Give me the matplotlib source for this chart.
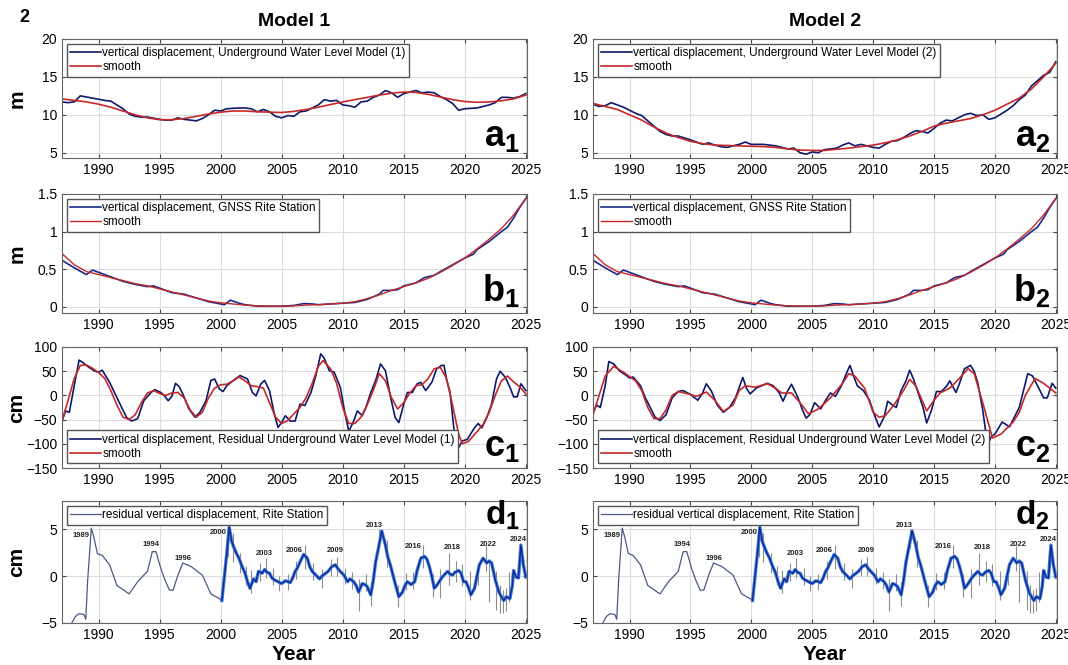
import numpy as np
import matplotlib
matplotlib.use('Agg')
import matplotlib.pyplot as plt

plt.rcParams['font.family'] = ['Liberation Sans', 'DejaVu Sans']
plt.rcParams['mathtext.fontset'] = 'custom'
plt.rcParams['mathtext.bf'] = 'Liberation Sans:bold'
plt.rcParams['mathtext.rm'] = 'Liberation Sans'

# ---- row a: underground water level models (m)
a1_x = [1987, 1987.5, 1988, 1988.5, 1989.5, 1990.5, 1991, 1992, 1992.5, 1993, 1993.5, 1994, 1995, 1995.5,
        1996, 1996.5, 1997, 1997.5, 1998, 1998.5, 1999, 1999.5, 2000, 2000.5, 2001.5, 2002, 2002.5, 2003,
        2003.5, 2004, 2004.5, 2005, 2005.5, 2006, 2006.5, 2007, 2008, 2008.5, 2009, 2009.5, 2010, 2010.5,
        2011, 2011.5, 2012, 2012.5, 2013, 2013.5, 2014, 2014.5, 2015, 2015.5, 2016, 2016.5, 2017, 2017.5,
        2018, 2018.5, 2019, 2019.5, 2020, 2021, 2021.5, 2022, 2022.5, 2023, 2023.5, 2024, 2024.5, 2025]
a1_y = [11.7, 11.6, 11.7, 12.5, 12.2, 11.9, 11.8, 10.8, 10.1, 9.8, 9.7, 9.7, 9.4, 9.3,
        9.3, 9.6, 9.4, 9.3, 9.2, 9.5, 10.0, 10.6, 10.5, 10.8, 10.9, 10.9, 10.8, 10.4,
        10.7, 10.4, 9.8, 9.6, 9.9, 9.8, 10.4, 10.5, 11.3, 12.0, 11.8, 11.9, 11.3, 11.2,
        11.0, 11.7, 11.8, 12.3, 12.6, 13.2, 12.9, 12.3, 12.8, 13.0, 13.2, 12.9, 13.0, 12.9,
        12.4, 12.0, 11.5, 10.6, 10.8, 10.9, 11.1, 11.3, 11.6, 12.3, 12.3, 12.2, 12.4, 12.8]
a1s_x = [1987, 1988, 1989, 1990, 1991, 1992, 1993, 1994, 1995, 1996, 1997, 1998, 1999, 2000, 2001, 2002,
         2003, 2004, 2005, 2006, 2007, 2008, 2009, 2010, 2011, 2012, 2013, 2014, 2015, 2016, 2017, 2018,
         2019, 2020, 2021, 2022, 2023, 2024, 2025]
a1s_y = [12.1, 11.9, 11.7, 11.4, 11.0, 10.5, 10.0, 9.6, 9.35, 9.35, 9.5, 9.8, 10.1, 10.35, 10.5, 10.5,
         10.4, 10.35, 10.3, 10.45, 10.7, 11.0, 11.35, 11.7, 12.0, 12.3, 12.6, 12.85, 13.0, 12.95, 12.7, 12.35,
         12.0, 11.75, 11.65, 11.7, 11.85, 12.1, 12.6]

a2_x = [1987, 1987.5, 1988, 1988.5, 1989.5, 1990.5, 1991, 1991.5, 1992, 1992.5, 1993, 1993.5, 1994, 1995,
        1995.5, 1996, 1996.5, 1997, 1997.5, 1998, 1998.5, 1999, 1999.5, 2000, 2001, 2002, 2002.5, 2003,
        2003.5, 2004, 2004.5, 2005, 2005.5, 2006, 2007, 2007.5, 2008, 2008.5, 2009, 2009.5, 2010, 2010.5,
        2011, 2011.5, 2012, 2012.5, 2013, 2013.5, 2014, 2014.5, 2015, 2015.5, 2016, 2016.5, 2017, 2017.5,
        2018, 2018.5, 2019, 2019.5, 2020, 2020.5, 2021, 2021.5, 2022, 2022.5, 2023, 2023.5, 2024, 2024.5, 2025]
a2_y = [11.4, 11.1, 11.2, 11.6, 11.0, 10.2, 9.9, 9.2, 8.5, 7.8, 7.4, 7.2, 7.2, 6.7,
        6.4, 6.1, 6.3, 6.0, 5.8, 5.7, 5.9, 6.1, 6.4, 6.1, 6.1, 5.9, 5.7, 5.5,
        5.6, 5.0, 4.8, 5.1, 5.0, 5.4, 5.6, 6.0, 6.3, 5.9, 6.1, 5.9, 5.7, 5.6,
        6.1, 6.5, 6.6, 7.0, 7.5, 7.9, 7.8, 7.6, 8.2, 8.9, 9.3, 9.2, 9.6, 10.0,
        10.2, 9.9, 10.0, 9.4, 9.6, 10.1, 10.6, 11.2, 12.0, 12.6, 13.8, 14.5, 15.2, 15.6, 17.0]
a2s_x = [1987, 1988, 1989, 1990, 1991, 1992, 1993, 1994, 1995, 1996, 1997, 1998, 1999, 2000, 2001, 2002,
         2003, 2004, 2005, 2006, 2007, 2008, 2009, 2010, 2011, 2012, 2013, 2014, 2015, 2016, 2017, 2018,
         2019, 2020, 2021, 2022, 2023, 2024, 2025]
a2s_y = [11.5, 11.1, 10.7, 10.0, 9.3, 8.4, 7.6, 7.0, 6.5, 6.2, 6.0, 5.95, 5.9, 5.85, 5.8, 5.7,
         5.5, 5.35, 5.3, 5.3, 5.45, 5.6, 5.8, 6.0, 6.3, 6.7, 7.2, 7.8, 8.5, 8.9, 9.2, 9.5,
         10.0, 10.6, 11.4, 12.2, 13.4, 15.0, 16.8]

# ---- row b: GNSS Rite station (m)
b_x = [1987, 1988, 1989, 1989.5, 1990, 1991, 1992, 1993, 1994, 1994.5, 1995, 1996, 1997, 1998, 1999, 2000,
       2000.3, 2000.8, 2001.5, 2002, 2003, 2004, 2005, 2006, 2006.8, 2007.5, 2008, 2009, 2010, 2011, 2012,
       2013, 2013.3, 2014, 2014.5, 2015, 2016, 2016.7, 2017.5, 2018, 2019, 2020, 2020.7, 2021, 2022, 2023,
       2023.5, 2024, 2024.5, 2025]
b_y = [0.62, 0.52, 0.43, 0.49, 0.46, 0.40, 0.34, 0.30, 0.27, 0.28, 0.25, 0.19, 0.17, 0.12, 0.07, 0.04,
       0.03, 0.09, 0.05, 0.03, 0.01, 0.01, 0.01, 0.02, 0.045, 0.04, 0.03, 0.04, 0.05, 0.06, 0.10,
       0.17, 0.22, 0.22, 0.23, 0.28, 0.32, 0.39, 0.42, 0.47, 0.56, 0.65, 0.70, 0.76, 0.87, 1.00,
       1.06, 1.18, 1.32, 1.44]
bs_x = [1987, 1988, 1989, 1990, 1991, 1992, 1993, 1994, 1995, 1996, 1997, 1998, 1999, 2000, 2001, 2002,
        2003, 2004, 2005, 2006, 2007, 2008, 2009, 2010, 2011, 2012, 2013, 2014, 2015, 2016, 2017, 2018,
        2019, 2020, 2021, 2022, 2023, 2024, 2025]
bs_y = [0.71, 0.56, 0.47, 0.43, 0.39, 0.35, 0.31, 0.28, 0.24, 0.20, 0.16, 0.12, 0.08, 0.055, 0.04, 0.025,
        0.015, 0.01, 0.01, 0.015, 0.025, 0.03, 0.04, 0.05, 0.07, 0.11, 0.16, 0.22, 0.27, 0.32, 0.38, 0.46,
        0.55, 0.65, 0.77, 0.90, 1.04, 1.22, 1.44]

# ---- row c: residual underground water level (cm)
c1_x = [1987, 1987.3, 1987.6, 1988.0, 1988.4, 1988.7, 1989.2, 1989.7, 1990.0, 1990.3, 1990.9, 1991.3, 1991.7,
        1992.3, 1992.7, 1993.2, 1993.7, 1994.3, 1994.6, 1995.1, 1995.4, 1995.7, 1996.0, 1996.3, 1996.6, 1996.9,
        1997.4, 1997.9, 1998.3, 1998.8, 1999.2, 1999.5, 1999.9, 2000.2, 2000.5, 2001.2, 2001.6, 2002.2, 2002.6,
        2002.9, 2003.3, 2003.6, 2004.0, 2004.4, 2004.7, 2005.0, 2005.3, 2005.7, 2006.1, 2006.5, 2006.9, 2007.4,
        2007.8, 2008.2, 2008.5, 2008.9, 2009.3, 2009.8, 2010.2, 2010.5, 2010.9, 2011.2, 2011.6, 2011.9, 2012.3,
        2012.7, 2013.1, 2013.5, 2013.9, 2014.3, 2014.6, 2015.0, 2015.3, 2015.7, 2016.1, 2016.4, 2016.8, 2017.3,
        2017.7, 2018.1, 2018.3, 2018.5, 2018.8, 2019.1, 2019.4, 2019.8, 2020.2, 2020.8, 2021.1, 2021.4, 2021.8,
        2022.2, 2022.6, 2022.9, 2023.3, 2023.7, 2024.0, 2024.3, 2024.6, 2025.0]
c1_y = [-53, -32, -35, 20, 73, 68, 58, 50, 48, 52, 27, 6, -15,
        -46, -53, -48, -11, 6, 12, 6, -1, -11, -2, 25, 18, 3,
        -28, -45, -35, -11, 31, 34, 13, 8, 20, 34, 41, 34, 6,
        -1, 24, 31, 10, -39, -66, -56, -42, -53, -53, -18, -21, 6,
        41, 86, 76, 51, 48, 17, -39, -74, -53, -32, -42, -25, 6,
        31, 65, 51, -1, -46, -56, -18, 6, 6, 24, 27, 10, 27,
        55, 62, 62, 34, 6, -67, -112, -94, -91, -67, -58, -67, -46,
        -18, 34, 50, 38, 17, -3, -3, 24, 10]
c1s_x = [1987, 1987.5, 1988, 1988.5, 1989, 1989.5, 1990, 1990.5, 1991, 1991.5, 1992, 1992.5, 1993, 1993.5,
         1994, 1994.5, 1995, 1995.5, 1996, 1996.5, 1997, 1997.5, 1998, 1998.5, 1999, 1999.5, 2000, 2000.5,
         2001, 2001.5, 2002, 2002.5, 2003, 2003.5, 2004, 2004.5, 2005, 2005.5, 2006, 2006.5, 2007, 2007.5,
         2008, 2008.4, 2009, 2009.5, 2010, 2010.5, 2011, 2011.5, 2012, 2012.5, 2013, 2013.5, 2014, 2014.5,
         2015, 2015.5, 2016, 2016.5, 2017, 2017.5, 2018, 2018.5, 2019, 2019.5, 2019.8, 2020.3, 2021, 2021.5,
         2022, 2022.5, 2023, 2023.5, 2024, 2024.5, 2025]
c1s_y = [-52, -10, 35, 62, 63, 56, 47, 35, 10, -20, -45, -50, -40, -15,
         5, 10, 4, 0, 5, 6, -5, -30, -45, -35, -5, 15, 22, 23,
         30, 38, 30, 20, 18, 15, -15, -45, -58, -52, -38, -25, -5, 25,
         60, 72, 55, 25, -25, -58, -58, -45, -20, 10, 45, 30, -5, -28,
         -15, 5, 20, 22, 35, 55, 58, 35, -20, -80, -100, -95, -75, -60,
         -35, 0, 30, 40, 28, 18, 3]

c2_x = [1987, 1987.3, 1987.6, 1988.0, 1988.3, 1988.7, 1989.2, 1989.7, 1990.0, 1990.3, 1990.9, 1991.3, 1991.7,
        1992.1, 1992.5, 1993.0, 1993.5, 1994.0, 1994.4, 1995.0, 1995.6, 1996.0, 1996.3, 1996.7, 1997.2, 1997.7,
        1998.2, 1998.7, 1999.3, 1999.6, 1999.9, 2000.4, 2001.3, 2001.8, 2002.3, 2002.6, 2003.0, 2003.3, 2003.8,
        2004.2, 2004.5, 2004.8, 2005.2, 2005.7, 2006.1, 2006.5, 2006.9, 2007.4, 2007.8, 2008.1, 2008.4, 2008.7,
        2009.2, 2009.7, 2010.1, 2010.5, 2010.9, 2011.2, 2011.6, 2011.9, 2012.3, 2012.7, 2013.0, 2013.3, 2013.7,
        2014.1, 2014.4, 2014.8, 2015.2, 2015.6, 2016.0, 2016.3, 2016.8, 2017.1, 2017.5, 2018.0, 2018.3, 2018.6,
        2019.0, 2019.4, 2019.7, 2020.0, 2020.6, 2020.9, 2021.2, 2021.6, 2022.0, 2022.4, 2022.7, 2023.1, 2023.5,
        2024.0, 2024.3, 2024.7, 2025.0]
c2_y = [-35, -20, -25, 20, 70, 65, 50, 42, 36, 38, 20, -5, -25,
        -45, -52, -40, -5, 8, 10, 2, -10, 5, 24, 10, -20, -35,
        -25, -5, 37, 15, 3, 15, 25, 20, 5, -12, 10, 23, -3,
        -30, -47, -40, -15, -28, -10, 5, -2, 20, 45, 62, 40, 20,
        10, -10, -40, -65, -45, -12, -20, -25, 10, 30, 52, 35, 5,
        -25, -57, -30, 8, 8, 18, 30, 6, 25, 55, 62, 50, 25,
        -30, -103, -85, -80, -55, -60, -65, -45, -25, 15, 45, 40, 20,
        -5, -5, 25, 15]
c2s_x = [1987, 1987.5, 1988, 1988.7, 1989.5, 1990.5, 1991, 1991.5, 1992, 1992.5, 1993, 1993.5, 1994, 1995,
         1995.5, 1996.3, 1997, 1997.7, 1998.5, 1999, 1999.5, 2000.3, 2001.3, 2002, 2002.5, 2003.3, 2004,
         2004.7, 2005.5, 2006.5, 2007.5, 2008, 2008.5, 2009.3, 2010, 2010.5, 2011, 2011.7, 2012.5, 2013,
         2013.5, 2014.4, 2015, 2015.5, 2016.3, 2017, 2017.8, 2018.3, 2019, 2019.8, 2020.5, 2021.5, 2022,
         2022.5, 2023.3, 2024, 2025]
c2s_y = [-40, 0, 40, 60, 48, 30, 10, -25, -48, -48, -30, 0, 8, 2,
         -2, 7, -10, -33, -20, 10, 20, 17, 24, 15, 5, 5, -15,
         -38, -28, -5, 25, 45, 40, 15, -35, -45, -42, -20, 10, 33,
         20, -32, -10, 5, 15, 33, 55, 45, -15, -88, -80, -55, -35,
         0, 35, 25, 5]

# ---- row d: residual vertical displacement, Rite station (cm)
d_x = [1987.8, 1988.1, 1988.4, 1988.8, 1988.95, 1989.1, 1989.4, 1989.6, 1989.9, 1990.3, 1990.9, 1991.5,
       1992.5, 1993.2, 1994.0, 1994.4, 1994.7, 1995.1, 1995.4, 1995.8, 1996.1, 1996.5, 1996.9, 1997.6,
       1998.5, 1999.2, 1999.9, 2000.1, 2000.5, 2000.7, 2000.9, 2001.1, 2001.3, 2001.5, 2001.7, 2002.0,
       2002.2, 2002.4, 2002.7, 2002.9, 2003.1, 2003.4, 2003.6, 2003.8, 2004.0, 2004.2, 2004.4, 2004.7,
       2005.0, 2005.3, 2005.7, 2005.9, 2006.1, 2006.3, 2006.5, 2006.8, 2007.1, 2007.3, 2007.5, 2007.8,
       2008.1, 2008.3, 2008.6, 2008.8, 2009.1, 2009.4, 2009.6, 2009.8, 2010.1, 2010.4, 2010.6, 2010.9,
       2011.1, 2011.3, 2011.6, 2011.8, 2012.0, 2012.3, 2012.5, 2012.7, 2012.9, 2013.2, 2013.5, 2013.7,
       2013.9, 2014.1, 2014.3, 2014.6, 2014.9, 2015.1, 2015.3, 2015.6, 2015.9, 2016.1, 2016.4, 2016.7,
       2016.9, 2017.1, 2017.3, 2017.5, 2017.7, 2017.9, 2018.1, 2018.3, 2018.6, 2018.8, 2019.0, 2019.2,
       2019.5, 2019.7, 2019.9, 2020.1, 2020.3, 2020.5, 2020.8, 2021.0, 2021.2, 2021.5, 2021.8, 2022.0,
       2022.2, 2022.5, 2022.8, 2023.0, 2023.2, 2023.4, 2023.7, 2023.9, 2024.0, 2024.2, 2024.4, 2024.6,
       2024.8, 2025.0]
d_y = [-5.0, -4.3, -4.0, -4.1, -4.6, -0.5, 5.1, 4.2, 2.4, 2.2, 1.2, -1.0,
       -1.9, -0.6, 0.5, 2.6, 2.6, 0.8, -0.3, -1.5, -1.5, 0.1, 1.4, 1.0,
       0.1, -1.9, -2.4, -2.6, 2.4, 5.2, 3.7, 3.0, 2.4, 1.9, 1.2, 0.3,
       -0.6, -1.3, -0.3, -0.6, 0.5, 0.3, 0.7, 0.4, 0.3, -0.2, -0.4, -0.6,
       -0.8, -0.5, -0.7, -0.2, 0.5, 0.9, 1.5, 2.3, 1.9, 1.0, 0.5, 0.1,
       -0.3, 0.0, 0.3, 0.5, 1.0, 1.2, 0.8, 0.5, 0.1, -0.6, -0.3, -0.6,
       -1.0, -1.7, -0.8, -0.9, -1.1, -2.0, -0.5, 1.5, 2.8, 4.8, 3.3, 2.0,
       1.2, 0.2, -0.8, -2.2, -1.7, -1.0, -0.6, -0.9, -0.6, 0.6, 1.9, 2.1,
       1.8, 1.0, 0.0, -1.3, -1.0, -0.6, -0.2, 0.1, 0.5, 0.2, 0.1, 0.4,
       0.6, 0.3, -0.6, -0.6, -1.2, -2.0, -1.3, 0.0, 1.2, 1.9, 1.4, 1.6,
       1.4, -0.4, -1.7, -2.2, -2.6, -2.2, -2.4, -1.0, 0.6, -0.1, -0.2, 3.3,
       1.2, -0.1]
# gray spikes in the noisy part: year, low, high
spike_x = [2000.6, 2001.0, 2001.6, 2002.1, 2002.5, 2003.2, 2003.7, 2004.3, 2004.8, 2005.5, 2006.2, 2006.9,
           2007.6, 2008.3, 2009.0, 2009.5, 2010.2, 2010.8, 2011.3, 2011.9, 2012.3, 2013.0, 2013.6, 2014.5,
           2015.2, 2015.8, 2016.6, 2017.4, 2018.0, 2018.7, 2019.3, 2019.8, 2020.4, 2021.1, 2021.7, 2022.0,
           2022.6, 2022.85, 2023.1, 2023.35, 2023.6]
spike_lo = [2.0, 1.5, 0.3, -1.0, -1.8, -0.5, -0.2, -0.9, -1.6, -1.5, -0.3, 0.8,
            -0.4, -1.3, 0.0, 0.0, -0.8, -1.4, -3.7, -1.6, -3.2, 3.0, 1.0, -3.3,
            -1.5, -1.4, 0.9, -2.2, -2.3, -1.0, -0.6, -1.1, -2.5, -1.0, 0.5, -2.8,
            -3.6, -3.9, -3.9, -3.7, -2.8]
spike_hi = [5.4, 4.6, 2.5, 1.1, 0.7, 1.4, 1.9, 0.9, 0.0, 0.2, 1.6, 3.3,
            1.4, 0.8, 1.8, 2.0, 0.9, 0.4, -0.3, 0.2, -0.6, 5.0, 3.8, -1.0,
            0.3, 0.4, 3.3, 0.2, 0.8, 2.5, 1.6, 1.3, 0.5, 1.4, 3.2, 1.8,
            0.5, -1.0, -1.5, -1.3, 0.4]
note_labels = ['1989', '1994', '1996', '2000', '2003', '2006', '2009', '2013', '2016', '2018', '2022', '2024']
note_x = [1988.6, 1994.3, 1996.9, 1999.8, 2003.6, 2006.0, 2009.4, 2012.6, 2015.8, 2019.0, 2021.9, 2024.4]
note_y = [4.3, 3.35, 1.9, 4.6, 2.45, 2.7, 2.7, 5.4, 3.1, 3.0, 3.4, 3.95]

W, H = 1068, 665
BLUE = '#0d1a6b'
RED = '#c62828'

fig = plt.figure(figsize=(W / 100, H / 100), dpi=100)

cols = [(62, 527), (593, 1057)]
rows = [(39, 158), (194, 313), (347, 468), (501, 623)]


def make_ax(col, row):
    x0, x1 = cols[col]
    y0, y1 = rows[row]
    ax = fig.add_axes([x0 / W, 1 - y1 / H, (x1 - x0) / W, (y1 - y0) / H])
    ax.set_xlim(1987, 2025.1)
    ax.set_xticks([1990, 1995, 2000, 2005, 2010, 2015, 2020, 2025])
    ax.grid(True, color='#dddddd', lw=0.8)
    ax.set_axisbelow(True)
    ax.tick_params(direction='in', length=3, labelsize=10, color='#444444', top=True, right=True)
    for s in ax.spines.values():
        s.set_color('#666666')
        s.set_linewidth(0.8)
    return ax


def tag(ax, letter, idx, y=0.03, size=26):
    ax.text(0.985, y, r'$\mathbf{%s_{%d}}$' % (letter, idx), transform=ax.transAxes,
            ha='right', va='bottom', fontsize=size)


def leg(ax, loc):
    ax.legend(loc=loc, fontsize=8.5, frameon=True, fancybox=False, edgecolor='#555555',
              framealpha=1, borderpad=0.3, labelspacing=0.15, handlelength=2.6,
              handletextpad=0.1, borderaxespad=0.4)


for ci in range(2):
    k = ci + 1
    # row a
    ax = make_ax(ci, 0)
    if ci == 0:
        ax.plot(a1_x, a1_y, color=BLUE, lw=1.2,
                label='vertical displacement, Underground Water Level Model (1)')
        ax.plot(a1s_x, a1s_y, color=RED, lw=1.2, label='smooth')
    else:
        ax.plot(a2_x, a2_y, color=BLUE, lw=1.2,
                label='vertical displacement, Underground Water Level Model (2)')
        ax.plot(a2s_x, a2s_y, color=RED, lw=1.2, label='smooth')
    ax.set_ylim(4.3, 20)
    ax.set_yticks([5, 10, 15, 20])
    leg(ax, 'upper left')
    tag(ax, 'a', k)

    # row b
    ax = make_ax(ci, 1)
    ax.plot(b_x, b_y, color='#1a2a8a', lw=1.2, label='vertical displacement, GNSS Rite Station')
    ax.plot(bs_x, bs_y, color=RED, lw=1.0, label='smooth')
    ax.set_ylim(-0.08, 1.5)
    ax.set_yticks([0, 0.5, 1, 1.5])
    ax.set_yticklabels(['0', '0.5', '1', '1.5'])
    leg(ax, 'upper left')
    tag(ax, 'b', k)

    # row c
    ax = make_ax(ci, 2)
    if ci == 0:
        ax.plot(c1_x, c1_y, color=BLUE, lw=1.2,
                label='vertical displacement, Residual Underground Water Level Model (1)')
        ax.plot(c1s_x, c1s_y, color=RED, lw=1.2, label='smooth')
    else:
        ax.plot(c2_x, c2_y, color=BLUE, lw=1.2,
                label='vertical displacement, Residual Underground Water Level Model (2)')
        ax.plot(c2s_x, c2s_y, color=RED, lw=1.2, label='smooth')
    ax.set_ylim(-150, 100)
    ax.set_yticks([-150, -100, -50, 0, 50, 100])
    leg(ax, 'lower left')
    tag(ax, 'c', k)

    # row d
    ax = make_ax(ci, 3)
    ax.vlines(spike_x, spike_lo, spike_hi, color='#8c8c8c', lw=0.8, zorder=2)
    post = [i for i, x in enumerate(d_x) if x >= 2000.1]
    ax.plot([d_x[i] for i in post], [d_y[i] for i in post], color='#3b7ae0', lw=2.4, zorder=3)
    ax.plot(d_x, d_y, color='#4b5a85', lw=0.9, zorder=4,
            label='residual vertical displacement, Rite Station')
    ax.plot([d_x[i] for i in post], [d_y[i] for i in post], color='#0b2a9a', lw=0.9, zorder=5)
    for t, x, y in zip(note_labels, note_x, note_y):
        ax.text(x, y, t, fontsize=5.5, fontweight='bold', ha='center', va='center', color='#222222')
    ax.set_ylim(-5, 8)
    ax.set_yticks([-5, 0, 5])
    leg(ax, 'upper left')
    tag(ax, 'd', k, y=0.75, size=24)

# column titles, row units, axis titles
fig.text(294 / W, 1 - 22 / H, 'Model 1', ha='center', va='center', fontsize=14, fontweight='bold')
fig.text(825 / W, 1 - 22 / H, 'Model 2', ha='center', va='center', fontsize=14, fontweight='bold')
fig.text(24 / W, 1 - 18 / H, '2', ha='center', va='center', fontsize=13, fontweight='bold')
for (y0, y1), unit in zip(rows, ['m', 'm', 'cm', 'cm']):
    fig.text(17 / W, 1 - (y0 + y1) / 2 / H, unit, rotation=90, ha='center', va='center',
             fontsize=15, fontweight='bold')
fig.text(294 / W, 1 - 655 / H, 'Year', ha='center', va='center', fontsize=15, fontweight='bold')
fig.text(825 / W, 1 - 655 / H, 'Year', ha='center', va='center', fontsize=15, fontweight='bold')

fig.savefig('out.png', dpi=100)
